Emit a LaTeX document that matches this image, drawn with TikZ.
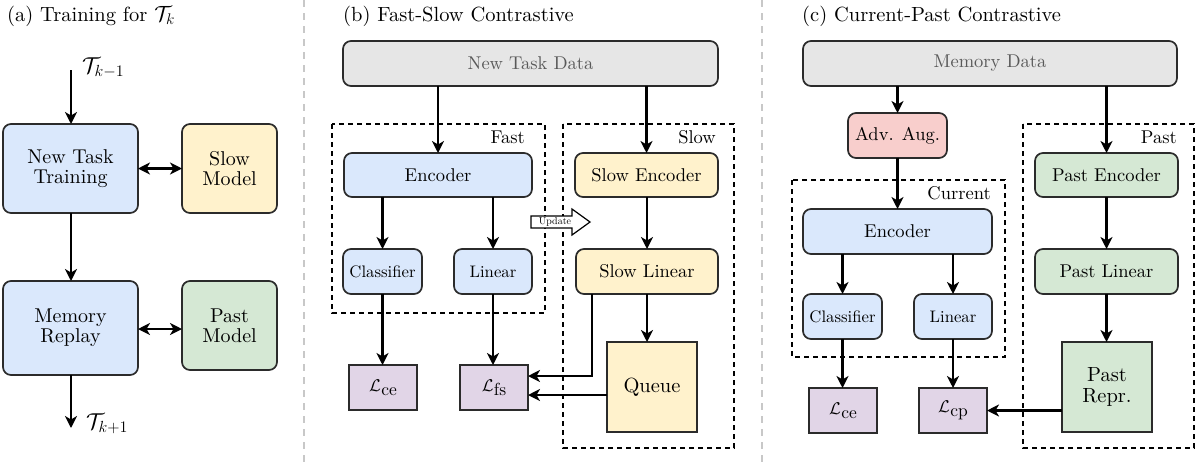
\RequirePackage{fix-cm}
\documentclass[tikz,border=0pt]{standalone}
\usepackage{amsmath}
\usepackage{fontspec}
\setmainfont{lmroman10-regular.otf}[BoldFont=lmroman10-bold.otf,
  ItalicFont=lmroman10-italic.otf, BoldItalicFont=lmroman10-bolditalic.otf]
\usetikzlibrary{arrows.meta}

\definecolor{cblue}{HTML}{DAE8FC}
\definecolor{cyellow}{HTML}{FFF2CC}
\definecolor{cgreen}{HTML}{D5E8D4}
\definecolor{cpink}{HTML}{F8CECC}
\definecolor{cpurple}{HTML}{E1D5E7}
\definecolor{cgray}{HTML}{E6E6E6}
\definecolor{bdr}{HTML}{2B2B2B}
\definecolor{graytext}{HTML}{595959}
\definecolor{sepgray}{HTML}{C8C8C8}

\newcommand{\fsz}[1]{\fontsize{#1}{#1}\selectfont}
% loss symbol: calligraphic L with a lowered roman tag
\newcommand{\lossname}[1]{{\fsz{17}$\mathcal{L}$}\kern0.5pt\raisebox{-4pt}{\fsz{17.5}#1}}

\tikzset{
  box/.style={draw=bdr, line width=1.7pt, rounded corners=8pt, align=center,
    inner sep=0pt, outer sep=0pt, font=\fsz{18.5}},
  bigbox/.style={box, font=\fsz{20}},
  bluebox/.style={box, fill=cblue},
  yellowbox/.style={box, fill=cyellow},
  greenbox/.style={box, fill=cgreen},
  pinkbox/.style={box, fill=cpink},
  graybox/.style={box, fill=cgray, text=graytext},
  smallbox/.style={font=\fsz{16.7}},
  lossbox/.style={draw=bdr, line width=1.7pt, fill=cpurple, inner sep=0pt,
    outer sep=0pt, minimum width=68pt, minimum height=45pt},
  storebox/.style={draw=bdr, line width=1.7pt, inner sep=0pt, outer sep=0pt,
    minimum width=90pt, minimum height=90pt, align=center, font=\fsz{20.5}},
  tip/.tip={Stealth[length=12pt, width=12pt, inset=3.5pt]},
  arr/.style={line width=2.1pt, draw=black, -tip},
  biarr/.style={line width=2.1pt, draw=black, tip-tip},
  group/.style={draw=black, line width=1.5pt, dash pattern=on 5pt off 4pt},
  grouplabel/.style={anchor=base east, inner sep=0pt, font=\fsz{18.5}},
  caption/.style={anchor=base west, inner sep=0pt, font=\fsz{20.5}},
  panelsep/.style={draw=sepgray, line width=2.5pt, dash pattern=on 7pt off 6pt},
}

\begin{document}
\begin{tikzpicture}[x=1pt, y=-1pt]
\useasboundingbox (0,0) rectangle (1199,464);

% panel separators
\draw[panelsep] (304,0) -- (304,464);
\draw[panelsep] (762,0) -- (762,464);

% ---------------- (a) training loop ----------------
\node[caption] (capa) at (7,21) {(a) Training for {\fsz{22}$\mathcal{T}_k$}};

\node[bluebox, bigbox, minimum width=135pt, minimum height=89pt] (nt) at (70.5,168.5) {New Task\\Training};
\node[yellowbox, bigbox, minimum width=95pt, minimum height=89pt] (slowm) at (229.5,168.5) {Slow\\Model};
\node[bluebox, bigbox, minimum width=135pt, minimum height=94pt] (mr) at (70.5,328) {Memory\\Replay};
\node[greenbox, bigbox, minimum width=95pt, minimum height=89pt] (pastm) at (229.5,325.5) {Past\\Model};

\coordinate (tin) at (71,70);
\coordinate (tout) at (71,428);
\node[anchor=west, inner sep=0pt, font=\fsz{23}] (tprev) at (82,68) {$\mathcal{T}_{k-1}$};
\node[anchor=west, inner sep=0pt, font=\fsz{23}] (tnext) at (86,424) {$\mathcal{T}_{k+1}$};

\draw[arr] (tin) -- (tin |- nt.north);
\draw[arr] (nt.south -| tin) -- (mr.north -| tin);
\draw[arr] (mr.south -| tout) -- (tout);
\draw[biarr] (nt.east) -- (slowm.west);
\coordinate (mrline) at (0,329);
\draw[biarr] (mr.east |- mrline) -- (pastm.west |- mrline);

% ---------------- (b) fast-slow ----------------
\node[caption] (capb) at (343,21) {(b) Fast-Slow Contrastive};

\draw[group] (332,124) rectangle (545,313);
\draw[group] (563,124) rectangle (734,448);
\node[grouplabel] (fastlab) at (525,143) {Fast};
\node[grouplabel] (slowlab) at (716,143) {Slow};

\node[graybox, minimum width=375pt, minimum height=45pt] (ntd) at (530.5,63.5) {New Task Data};
\node[bluebox, minimum width=188pt, minimum height=44pt] (enc) at (438,175) {Encoder};
\node[bluebox, smallbox, minimum width=79pt, minimum height=45pt] (cls) at (382.5,271.5) {Classifier};
\node[bluebox, smallbox, minimum width=78pt, minimum height=45pt] (lin) at (493,271.5) {Linear};
\node[lossbox] (lce) at (383,387.5) {\lossname{ce}};
\node[lossbox] (lfs) at (494,387.5) {\lossname{fs}};

\node[yellowbox, minimum width=143pt, minimum height=44pt] (senc) at (646.5,175) {Slow Encoder};
\node[yellowbox, minimum width=142pt, minimum height=45pt] (slin) at (647,271.5) {Slow Linear};
\node[storebox, fill=cyellow] (queue) at (652,387) {Queue};

\draw[arr] (enc.north |- ntd.south) -- (enc.north);
\draw[arr] (senc.north |- ntd.south) -- (senc.north);
\draw[arr] (cls.north |- enc.south) -- (cls.north);
\draw[arr] (lin.north |- enc.south) -- (lin.north);
\draw[arr] (cls.south) -- (cls.south |- lce.north);
\draw[arr] (lin.south) -- (lin.south |- lfs.north);
\draw[arr] (senc.south -| slin.north) -- (slin.north);
\draw[arr] (slin.south) -- (slin.south |- queue.north);

\coordinate (fsA) at (592,376);
\coordinate (fsB) at (0,395);
\draw[arr] (slin.south -| fsA) |- (lfs.east |- fsA);
\draw[arr] (queue.west |- fsB) -- (lfs.east |- fsB);

% momentum update from fast to slow
\draw[line width=1.2pt, draw=black, fill=white, line join=miter]
  (531,216) -- (572,216) -- (572,209) -- (590,222) -- (572,235) -- (572,228) -- (531,228) -- cycle;
\node[inner sep=0pt, font=\fsz{10}] (upd) at (555,222) {Update};

% ---------------- (c) current-past ----------------
\node[caption] (capc) at (802,21) {(c) Current-Past Contrastive};

\draw[group] (792,180) rectangle (1005,357);
\draw[group] (1023,124) rectangle (1194,448);
\node[grouplabel] (curlab) at (991,199) {Current};
\node[grouplabel] (pastlab) at (1177,143) {Past};

\node[graybox, minimum width=374pt, minimum height=45pt] (md) at (990,63.5) {Memory Data};
\node[pinkbox, minimum width=99pt, minimum height=45pt] (adv) at (897.5,135.5) {Adv. Aug.};
\node[bluebox, minimum width=189pt, minimum height=45pt] (encc) at (897.5,231.5) {Encoder};
\node[bluebox, smallbox, minimum width=79pt, minimum height=45pt] (clsc) at (842.5,316.5) {Classifier};
\node[bluebox, smallbox, minimum width=78pt, minimum height=45pt] (linc) at (953,316.5) {Linear};
\node[lossbox] (lcec) at (843,410.5) {\lossname{ce}};
\node[lossbox] (lcp) at (953,410.5) {\lossname{cp}};

\node[greenbox, minimum width=143pt, minimum height=44pt] (penc) at (1106.5,175) {Past Encoder};
\node[greenbox, minimum width=143pt, minimum height=45pt] (plin) at (1106.5,271.5) {Past Linear};
\node[storebox, fill=cgreen] (prepr) at (1107,387) {Past\\Repr.};

\draw[arr] (adv.north |- md.south) -- (adv.north);
\draw[arr] (penc.north |- md.south) -- (penc.north);
\draw[arr] (adv.south) -- (adv.south |- encc.north);
\draw[arr] (clsc.north |- encc.south) -- (clsc.north);
\draw[arr] (linc.north |- encc.south) -- (linc.north);
\draw[arr] (clsc.south) -- (clsc.south |- lcec.north);
\draw[arr] (linc.south) -- (linc.south |- lcp.north);
\draw[arr] (penc.south) -- (plin.north);
\draw[arr] (plin.south) -- (plin.south |- prepr.north);
\draw[arr] (prepr.west |- lcp.east) -- (lcp.east);

\end{tikzpicture}
\end{document}
